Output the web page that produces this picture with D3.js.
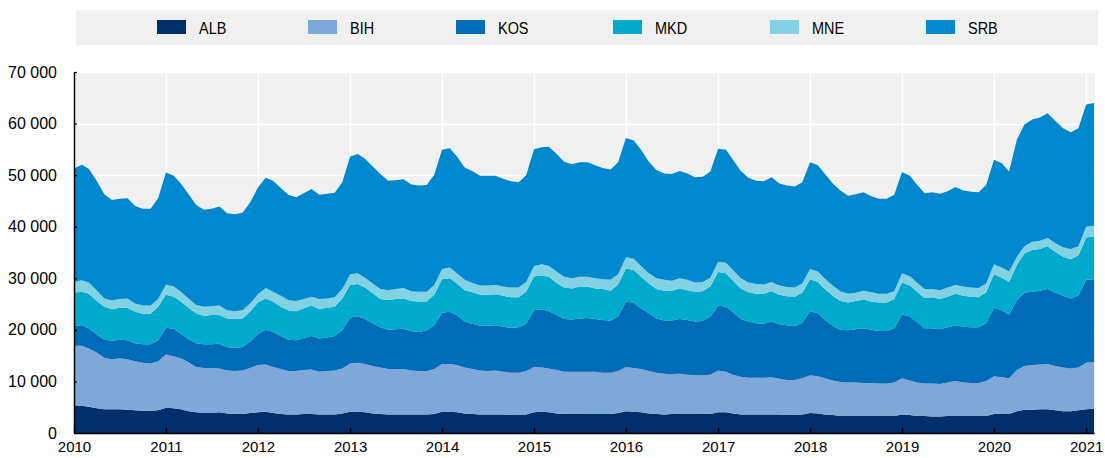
<!DOCTYPE html>
<html lang="en">
<head>
<meta charset="UTF-8">
<title>Stacked area by economy</title>
<style>
  body { margin: 0; background: #fff; }
  svg { display: block; }
  text { font-family: "Liberation Sans", Arial, sans-serif; fill: #000; }
  .legend text { font-size: 17px; }
</style>
<script src="https://d3js.org/d3.v7.min.js"></script>
</head>
<body>
<svg id="chart" width="1105" height="458"></svg>
<script>
// monthly, Jan 2010 .. Feb 2021 (134 points)
const firstMonth = new Date(2010, 0, 1);
const lastMonth = new Date(2021, 1, 1);
const keys = ["ALB", "BIH", "KOS", "MKD", "MNE", "SRB"];
const colors = ["#002f6c", "#7fa8d9", "#006bb6", "#00aacc", "#83d2e3", "#0088cf"];
const yTicks = [0, 10000, 20000, 30000, 40000, 50000, 60000, 70000];

const ALB = [
  5400,5300,5100,4800,4600,4600,4600,4500,4400,4300,4300,4400,4900,4800,4600,4200,4000,3900,3900,4000,3800,3700,3700,3900,4000,4100,
  3900,3700,3600,3600,3700,3700,3600,3600,3600,3800,4100,4100,4000,3800,3700,3600,3600,3600,3600,3600,3600,3700,4100,4100,4000,3800,
  3700,3600,3600,3600,3600,3500,3500,3600,4000,4100,4000,3800,3700,3700,3700,3700,3700,3700,3700,3900,4200,4100,4000,3800,3700,3600,
  3700,3700,3700,3700,3700,3700,4000,4000,3800,3600,3600,3600,3600,3600,3600,3500,3500,3600,3900,3800,3600,3500,3300,3300,3300,3300,
  3300,3300,3300,3300,3600,3500,3300,3300,3200,3200,3300,3300,3300,3300,3300,3300,3700,3700,3700,4200,4500,4500,4600,4600,4400,4200,4200,4400,4600,4700
];
const BIH = [
  11500,11600,11300,10800,10000,9700,9900,9800,9500,9300,9200,9500,10300,10100,9900,9500,8800,8700,8700,8500,8300,8300,8400,8700,9200,9200,
  8900,8700,8400,8400,8500,8600,8300,8400,8500,8700,9400,9500,9400,9200,9000,8800,8800,8800,8500,8400,8400,8700,9300,9300,9200,8900,
  8700,8500,8400,8500,8300,8200,8200,8400,8800,8600,8500,8400,8200,8200,8200,8200,8200,8000,8000,8100,8600,8500,8400,8200,8000,7900,
  7700,7800,7600,7500,7500,7600,8100,7900,7500,7300,7100,7100,7100,7200,6900,6800,6800,7000,7300,7200,7000,6700,6600,6500,6500,6400,
  6400,6300,6300,6500,7000,6700,6500,6300,6400,6300,6500,6800,6500,6400,6400,6800,7300,7100,6900,8000,8500,8700,8700,8800,8600,8500,8300,8300,9000,9000
];
const KOS = [
  3800,4000,3900,3500,3500,3600,3600,3700,3500,3600,3700,4100,5200,5300,4800,4500,4600,4600,4600,4800,4600,4500,4600,5100,6000,6700,
  6800,6400,6100,6000,6200,6500,6400,6500,6700,7400,8900,9000,8700,8300,7800,7600,7700,7800,7700,7600,7900,8500,9900,10100,9700,8900,
  8800,8700,8800,8800,8700,8700,8800,9200,11000,11300,11100,10700,10200,10100,10300,10400,10200,10200,10100,10600,12700,12600,11800,11200,10500,10300,
  10400,10600,10600,10400,10500,11300,12600,12600,12100,11200,10900,10600,10500,10800,10600,10600,10400,10800,12400,12200,11300,10600,10100,10100,10300,10600,
  10300,10200,10200,10500,12400,12400,11700,10700,10700,10600,10700,10800,10800,10800,10800,11200,13300,13000,12400,13600,14200,14200,14300,14500,14200,13900,13600,14000,16100,16100
];
const MKD = [
  6500,6500,6700,6500,6400,6100,6200,6300,6100,5900,5900,6500,6400,6200,6200,6100,5800,5500,5700,5600,5500,5600,5500,5800,6100,6100,
  5900,5700,5700,5600,5800,5900,5700,5800,5700,6200,6300,6300,6100,5800,5500,5800,5900,5900,5800,5900,5600,5900,6500,6500,6100,6100,
  6100,6000,6000,6000,6000,5900,5800,6200,6600,6500,6700,6200,6100,6000,6200,6100,5900,6000,5800,6200,6400,6400,6100,5800,5700,5800,
  5800,5900,5800,5800,5800,5800,6500,6500,6100,5900,5700,5700,5800,5900,5700,5600,5700,5800,6200,6100,6000,5800,5600,5400,5500,5600,
  5500,5500,5500,5700,6200,6000,5900,5900,6000,5900,5900,6100,6000,5900,5800,6000,6500,6300,6300,6800,7600,8100,8100,8300,7900,7600,7600,7700,8200,8300
];
const MNE = [
  2100,2200,2200,2100,1600,1700,1700,1800,1600,1600,1600,1500,2000,2000,1900,1800,1600,1800,1700,1800,1600,1500,1600,1600,1600,2000,
  1900,2100,2000,2000,1800,1700,2000,1800,1800,1800,2100,2100,1900,1900,1900,1900,1900,2000,1900,1900,1900,1900,2000,2100,2000,2000,
  1800,1800,1800,1800,1800,1900,1900,1900,2000,2200,2100,2200,2100,2000,1900,1900,2000,1900,2100,2000,2200,2200,2100,2000,2100,2100,
  1900,2000,2000,1800,1800,1700,2000,2000,2100,2000,1900,1900,1800,1800,1800,1800,1800,1800,2000,2000,2000,2000,1900,1700,1600,1700,
  1800,1700,1700,1500,1800,1800,1800,1700,1600,1700,1800,1700,1800,1800,1800,1700,1900,2000,2000,1600,1400,1600,1600,1600,1700,1800,2000,1800,2100,2100
];
const SRB = [
  22000,22400,22000,21200,20200,19500,19400,19400,18900,18800,18800,19500,21700,21500,21000,20200,19400,18800,18900,19200,18800,18800,18900,19600,20700,21400,
  21500,20900,20400,20100,20500,20900,20200,20300,20300,20700,22800,23100,23100,22700,22300,21200,21100,21100,20700,20600,20700,21400,23100,23100,22600,21800,
  21700,21300,21300,21200,20900,20600,20400,20700,22600,22700,23100,22800,22300,22100,22200,22200,21900,21600,21400,21700,23100,22900,22500,21600,21000,20600,
  20700,20800,20600,20400,20400,20600,21900,21900,21400,20800,20300,20000,20000,20300,19800,19700,19600,19600,20700,20600,20300,19800,19500,19000,19100,19100,
  18600,18400,18400,18700,19600,19500,19000,18600,18800,18700,18700,19000,18600,18600,18600,19100,20300,20200,19400,22700,23600,23700,23900,24200,23700,23100,22600,22900,23700,23800
];

const series = { ALB, BIH, KOS, MKD, MNE, SRB };
const months = d3.timeMonth.range(firstMonth, d3.timeMonth.offset(lastMonth, 1));
const rows = months.map((d, i) => {
  const r = { date: d };
  keys.forEach(k => r[k] = series[k][i]);
  return r;
});

const svg = d3.select("#chart");
const plotLeft = 74, plotRight = 1094, plotTop = 72, plotBottom = 433;

const x = d3.scaleTime().domain([firstMonth, lastMonth]).range([plotLeft, plotRight]);
const y = d3.scaleLinear().domain([0, 70000]).range([plotBottom, plotTop]);
const fmt = d3.formatLocale({ decimal: ".", thousands: " ", grouping: [3], currency: ["", ""] }).format(",");

// plot background + white grid
svg.append("rect")
  .attr("x", plotLeft).attr("y", plotTop)
  .attr("width", plotRight - plotLeft + 1).attr("height", plotBottom - plotTop)
  .attr("fill", "#f0f0f0");

const years = d3.timeYear.range(firstMonth, lastMonth);
svg.append("g").selectAll("line").data(yTicks.slice(1)).join("line")
  .attr("x1", plotLeft).attr("x2", plotRight + 1)
  .attr("y1", d => Math.round(y(d)) + 0.5).attr("y2", d => Math.round(y(d)) + 0.5)
  .attr("stroke", "#fff").attr("stroke-width", 1.5);
svg.append("g").selectAll("line").data(years.slice(1)).join("line")
  .attr("x1", d => Math.round(x(d)) + 0.5).attr("x2", d => Math.round(x(d)) + 0.5)
  .attr("y1", plotTop).attr("y2", plotBottom)
  .attr("stroke", "#fff").attr("stroke-width", 1.5);

// stacked areas
const stacked = d3.stack().keys(keys)(rows);
const area = d3.area()
  .x(d => x(d.data.date))
  .y0(d => y(d[0]))
  .y1(d => y(d[1]));

svg.append("g").selectAll("path").data(stacked).join("path")
  .attr("fill", (d, i) => colors[i])
  .attr("d", area);

// axes
const yAxis = svg.append("g")
  .attr("transform", `translate(${plotLeft},0)`)
  .call(d3.axisLeft(y).tickValues(yTicks).tickFormat(fmt).tickSizeInner(-3).tickSizeOuter(0).tickPadding(17));
yAxis.selectAll("text").style("font-size", "16px");

const xAxis = svg.append("g")
  .attr("transform", `translate(0,${plotBottom})`)
  .call(d3.axisBottom(x).tickValues(years).tickFormat(d3.timeFormat("%Y"))
    .tickSizeInner(-5).tickSizeOuter(0).tickPadding(8));
xAxis.selectAll("text").style("font-size", "15px");

svg.selectAll(".domain").attr("stroke", "#000").attr("stroke-width", 1.5);
svg.selectAll(".tick line").attr("stroke", "#000").attr("stroke-width", 1.2);

// legend (labels squeezed to look like a narrow face)
const legendX = [157, 308, 456, 613, 770, 926];
const legend = svg.append("g").attr("class", "legend");
legend.append("rect")
  .attr("x", 76).attr("y", 10).attr("width", 1022).attr("height", 35)
  .attr("fill", "#f0f0f0");
const item = legend.selectAll("g.item").data(keys).join("g")
  .attr("class", "item")
  .attr("transform", (d, i) => `translate(${legendX[i]},0)`);
item.append("rect")
  .attr("x", 0).attr("y", 20).attr("width", 29).attr("height", 14)
  .attr("fill", (d, i) => colors[i]);
item.append("text")
  .attr("transform", "translate(42,33.5) scale(0.85,1)")
  .text(d => d);
</script>
</body>
</html>
